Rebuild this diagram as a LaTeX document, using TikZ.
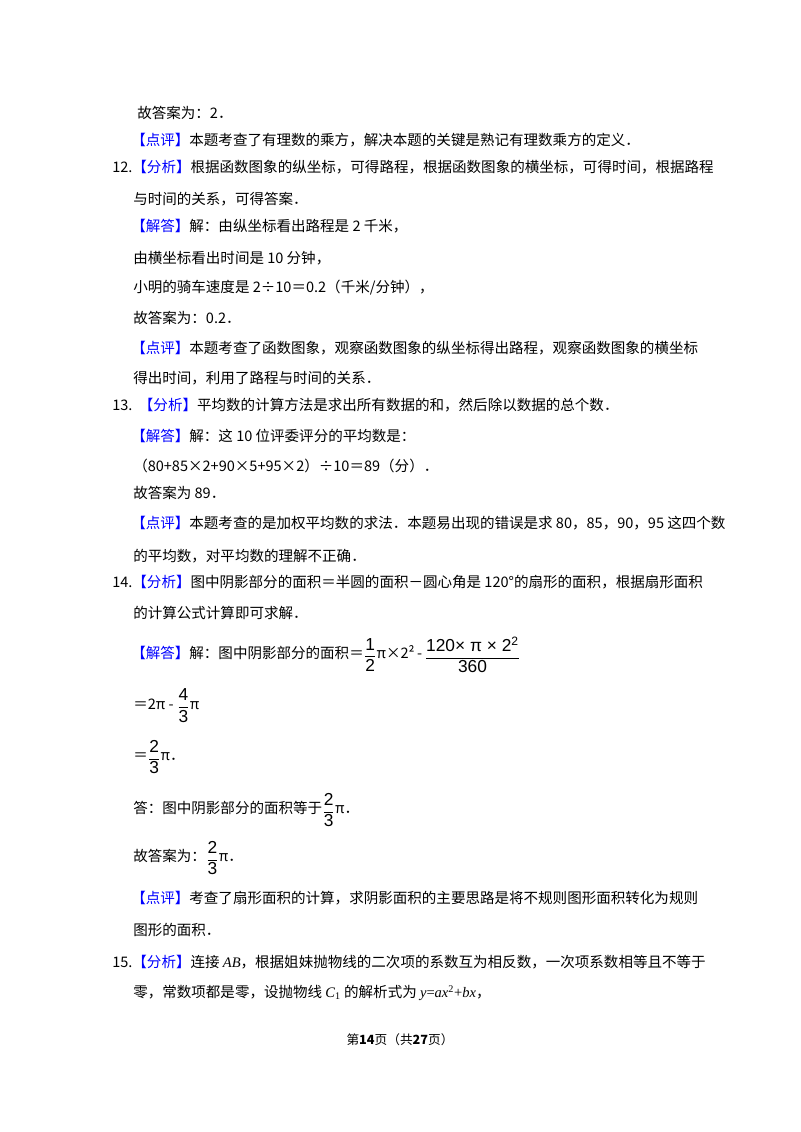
\documentclass[tikz,border=0pt]{standalone}
\usepackage{amsmath}
\usepackage{fontspec}
\setmainfont{Liberation Serif}
\newfontfamily\cjk{Noto Sans CJK SC}
\newfontfamily\fsans{Liberation Sans}
\newcommand{\tg}[1]{\textcolor{blue}{【#1】}}
\newcommand{\fr}[2]{$\vcenter{\hbox{\fsans\fontsize{13}{14}\selectfont$\genfrac{}{}{0.6pt}{0}{\text{#1}}{\text{#2}}$}}$}
\newcommand{\ital}[1]{{\rmfamily\itshape #1}}
\begin{document}
\begin{tikzpicture}[x=0.75pt,y=-0.75pt]
\tikzset{ln/.style={anchor=west,inner sep=0pt,font=\cjk\fontsize{10.9}{13}\selectfont}}
\useasboundingbox (0,0) rectangle (800,1132);
\fill[white] (0,0) rectangle (800,1132);
\node[ln] (l1) at (137,113) {故答案为：2．};
\node[ln] (l2) at (131,140) {\tg{点评}本题考查了有理数的乘方，解决本题的关键是熟记有理数乘方的定义．};
\node[ln] (l3) at (112,167) {12.\tg{分析}根据函数图象的纵坐标，可得路程，根据函数图象的横坐标，可得时间，根据路程};
\node[ln] (l4) at (133,199) {与时间的关系，可得答案．};
\node[ln] (l5) at (131,226) {\tg{解答}解：由纵坐标看出路程是 2 千米，};
\node[ln] (l6) at (133,258) {由横坐标看出时间是 10 分钟，};
\node[ln] (l7) at (133,288) {小明的骑车速度是 2÷10＝0.2（千米/分钟），};
\node[ln] (l8) at (133,318) {故答案为：0.2．};
\node[ln] (l9) at (131,348) {\tg{点评}本题考查了函数图象，观察函数图象的纵坐标得出路程，观察函数图象的横坐标};
\node[ln] (l10) at (133,378) {得出时间，利用了路程与时间的关系．};
\node[ln] (l11) at (112,405) {13.\ \ \tg{分析}平均数的计算方法是求出所有数据的和，然后除以数据的总个数．};
\node[ln] (l12) at (131,436) {\tg{解答}解：这 10 位评委评分的平均数是：};
\node[ln] (l13) at (133,466) {（80+85×2+90×5+95×2）÷10＝89（分）．};
\node[ln] (l14) at (133,493) {故答案为 89．};
\node[ln] (l15) at (131,523) {\tg{点评}本题考查的是加权平均数的求法．本题易出现的错误是求 80，85，90，95 这四个数};
\node[ln] (l16) at (133,556) {的平均数，对平均数的理解不正确．};
\node[ln] (l17) at (112,582) {14.\tg{分析}图中阴影部分的面积＝半圆的面积－圆心角是 120°的扇形的面积，根据扇形面积};
\node[ln] (l18) at (133,613) {的计算公式计算即可求解．};
\node[ln] (l19) at (131,655) {\tg{解答}解：图中阴影部分的面积＝\fr{1}{2}π×2²\,-\,\fr{120× π × 2\textsuperscript{2}}{360}};
\node[ln] (l20) at (133,706) {＝2π - \fr{4}{3}π};
\node[ln] (l21) at (133,757) {＝\fr{2}{3}π．};
\node[ln] (l22) at (133,810) {答：图中阴影部分的面积等于\fr{2}{3}π．};
\node[ln] (l23) at (133,858) {故答案为：\fr{2}{3}π．};
\node[ln] (l24) at (131,898) {\tg{点评}考查了扇形面积的计算，求阴影面积的主要思路是将不规则图形面积转化为规则};
\node[ln] (l25) at (133,930) {图形的面积．};
\node[ln] (l26) at (112,962) {15.\tg{分析}连接 \ital{AB}，根据姐妹抛物线的二次项的系数互为相反数，一次项系数相等且不等于};
\node[ln] (l27) at (133,993) {零，常数项都是零，设抛物线 \ital{C}{\rmfamily\textsubscript{1}} 的解析式为 {\rmfamily\ital{y}=\ital{ax}\textsuperscript{2}+\ital{bx}}，};
\node[inner sep=0pt,font=\cjk\fontsize{9.5}{11}\selectfont] (ft) at (400,1040) {第\textbf{14}页（共\textbf{27}页）};
\end{tikzpicture}
\end{document}
